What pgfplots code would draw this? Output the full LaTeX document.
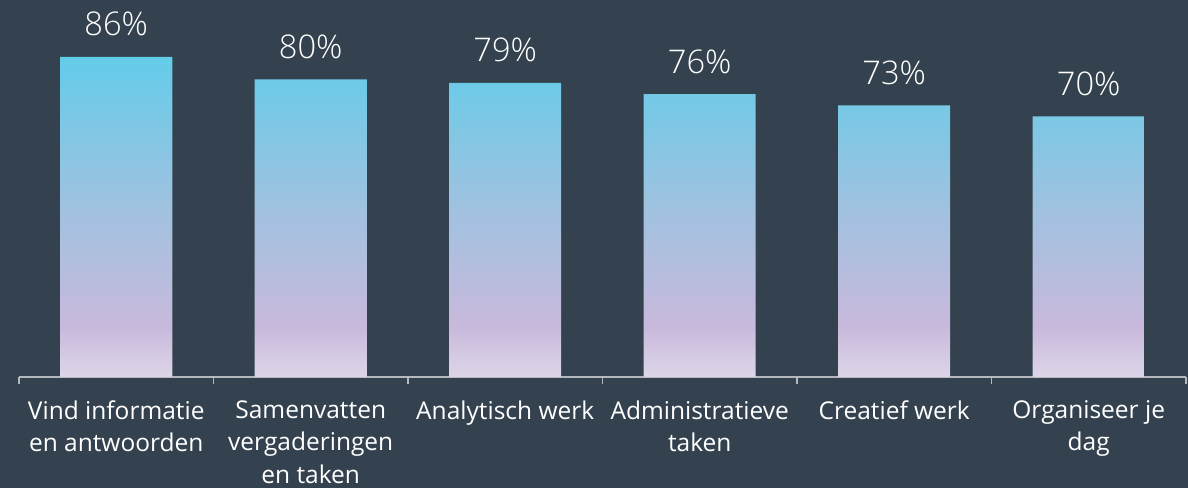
\documentclass[border=0pt]{standalone}
\usepackage{fontspec}
\setmainfont{Open Sans}
\newfontfamily\lightfont{Open Sans Light}
\usepackage{pgfplots}
\pgfplotsset{compat=1.18}

\definecolor{bg}{HTML}{33424E}
\definecolor{axgray}{HTML}{B4B8BC}
\definecolor{bartop}{HTML}{63CCE9}
\definecolor{barmid}{HTML}{A3C1DF}
\definecolor{barlav}{HTML}{C8B9DC}
\definecolor{barbot}{HTML}{DDD5E8}

% bar gradient: path is fitted to 25bp..75bp
\pgfdeclareverticalshading{barshade}{100bp}{%
  color(0bp)=(barbot); color(25bp)=(barbot); color(33bp)=(barlav);
  color(50bp)=(barmid); color(75bp)=(bartop); color(100bp)=(bartop)}

\begin{document}
\begin{tikzpicture}
\fill[bg] (0,0) rectangle (1188pt,488pt);
\begin{axis}[
    at={(19pt,111pt)}, anchor=south west,
    scale only axis,
    width=1167pt, height=377pt,
    ybar, bar width=0.576,
    xmin=-0.5, xmax=5.5,
    ymin=0, ymax=101.3,
    axis x line*=bottom,
    axis y line=none,
    axis line style={color=axgray, line width=1.5pt},
    xtick={0,...,5},
    xticklabels={{Vind informatie\\en antwoorden},
                 {Samenvatten\\vergaderingen\\en taken},
                 {Analytisch werk},
                 {Administratieve\\taken},
                 {Creatief werk},
                 {Organiseer je\\dag}},
    major tick length=0pt,
    minor xtick={-0.5,0.5,...,5.5},
    minor tick length=7pt,
    tick align=outside,
    minor x tick style={color=axgray, line width=1.5pt},
    xticklabel style={text=white, align=center, anchor=north, yshift=-20pt,
        font=\fontsize{24.5}{32.4}\selectfont},
    nodes near coords={\pgfmathprintnumber{\pgfplotspointmeta}\%},
    /pgf/number format/assume math mode=true,
    every node near coord/.append style={text=white, anchor=base, yshift=21pt,
        font=\lightfont\fontsize{32.6}{39}\selectfont},
    clip=false,
]
\addplot[draw=none, shading=barshade] coordinates {
    (0,86) (1,80) (2,79) (3,76) (4,73) (5,70)
};
\end{axis}
\pgfresetboundingbox
\path (0,0) rectangle (1188pt,488pt);
\end{tikzpicture}
\end{document}
